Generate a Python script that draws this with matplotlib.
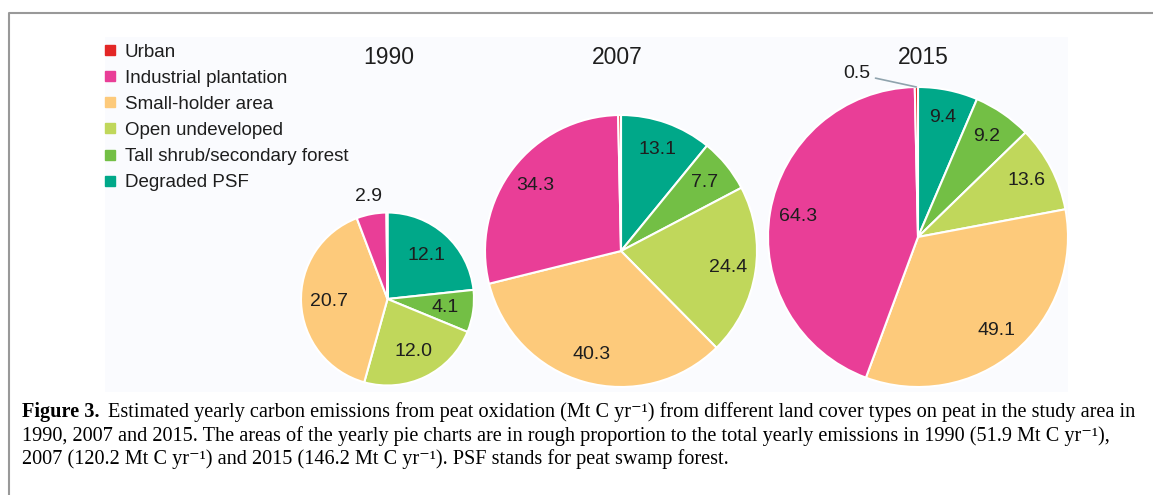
import matplotlib
matplotlib.use("Agg")
import matplotlib.pyplot as plt
import numpy as np
from matplotlib.lines import Line2D

plt.rcParams['font.family'] = ['Liberation Sans', 'DejaVu Sans']

#------------------------------------------------------------------------------
# Data (Mt C / yr), slice order clockwise from 12 o'clock
categories = ["Degraded PSF", "Tall shrub/secondary forest", "Open undeveloped",
              "Small-holder area", "Industrial plantation", "Urban"]
colors = ["#00a889", "#73bf45", "#c0d75b", "#fdca7b", "#e93e97", "#e32726"]

years = ["1990", "2007", "2015"]
totals = [51.9, 120.2, 146.2]
values_1990 = [12.1, 4.1, 12.0, 20.7, 2.9, 0.1]
values_2007 = [13.1, 7.7, 24.4, 40.3, 34.3, 0.4]
values_2015 = [9.4, 9.2, 13.6, 49.1, 64.3, 0.5]

# legend order (top to bottom)
legend_order = ["Urban", "Industrial plantation", "Small-holder area",
                "Open undeveloped", "Tall shrub/secondary forest", "Degraded PSF"]

#------------------------------------------------------------------------------
# Layout (pixel coordinates, y from top)
W, H = 1153, 495
centers = [(387.5, 299), (621, 251), (918, 237)]
radii = [86.5, 136, 150]
title_pos = [(389, 58), (617, 58), (923, 58)]
outside = [[4], [], [5]]          # slices labelled outside the pie
dark = "#1e1e1e"

fig = plt.figure(figsize=(W / 100, H / 100), dpi=100)
ax = fig.add_axes([0, 0, 1, 1])
ax.set_xlim(0, W)
ax.set_ylim(0, H)
ax.set_aspect('equal')
ax.axis('off')

# faint panel background and page frame
ax.add_patch(plt.Rectangle((105, H - 392), 963, 355, color="#fafbfe", zorder=0, lw=0))
ax.plot([8.5, 8.5, W], [0, H - 13, H - 13], color="#999999", lw=1.5, solid_capstyle='butt')

all_values = [values_1990, values_2007, values_2015]
for k, vals in enumerate(all_values):
    cx, cy = centers[k]
    cy = H - cy
    r = radii[k]
    wedges, _ = ax.pie(vals, colors=colors, center=(cx, cy), radius=r,
                       startangle=90, counterclock=False, frame=True,
                       wedgeprops=dict(edgecolor="white", linewidth=1.5))
    for i, w in enumerate(wedges):
        if vals[i] < 0.5:
            continue
        ang = np.deg2rad((w.theta1 + w.theta2) / 2)
        txt = f"{vals[i]:.1f}"
        if i in outside[k]:
            if k == 0:
                ax.text(cx + (r + 18) * np.cos(ang), cy + (r + 18) * np.sin(ang), txt,
                        ha='center', va='center', fontsize=14, color=dark)
            else:
                ax.annotate(txt, xy=(cx + r * np.cos(ang), cy + r * np.sin(ang)),
                            xytext=(cx - 48, cy + r + 13), ha='right', va='center',
                            fontsize=14, color=dark,
                            arrowprops=dict(arrowstyle='-', color="#8fa3ad", lw=1.2,
                                            shrinkA=2, shrinkB=0))
        else:
            ax.text(cx + (r - 28) * np.cos(ang), cy + (r - 28) * np.sin(ang), txt,
                    ha='center', va='center', fontsize=14, color=dark)
    tx, ty = title_pos[k]
    ax.text(tx, H - ty, years[k], ha='center', va='center', fontsize=16.5, color=dark)

ax.set_xlim(0, W)
ax.set_ylim(0, H)

# legend
handles = [Line2D([], [], marker='s', ls='', markersize=7.5,
                  color=colors[categories.index(c)]) for c in legend_order]
ax.legend(handles, legend_order, loc='upper left', bbox_to_anchor=(95 / W, 1 - 36 / H),
          frameon=False, fontsize=13.5, handlelength=0.8, handletextpad=0.4,
          labelspacing=0.48, borderaxespad=0, labelcolor=dark)

# caption
serif = ['Liberation Serif', 'DejaVu Serif']
cap_size = 14.6
unit = "Mt C yr\u207b\u00b9"
t1 = ax.text(22, H - 412, "Figure 3.", fontsize=cap_size, fontweight='bold',
             family=serif, va='center', ha='left')
ax.annotate(f"Estimated yearly carbon emissions from peat oxidation ({unit}) from different "
            "land cover types on peat in the study area in",
            xy=(1, 0.5), xycoords=t1, xytext=(6, 0), textcoords='offset points',
            va='center', ha='left', fontsize=cap_size, family=serif)
ax.text(22, H - 436, f"{years[0]}, {years[1]} and {years[2]}. The areas of the yearly pie charts "
        f"are in rough proportion to the total yearly emissions in {years[0]} ({totals[0]} {unit}),",
        fontsize=cap_size, family=serif, va='center', ha='left')
ax.text(22, H - 459, f"{years[1]} ({totals[1]} {unit}) and {years[2]} ({totals[2]} {unit}). "
        "PSF stands for peat swamp forest.",
        fontsize=cap_size, family=serif, va='center', ha='left')

fig.savefig("out.png", dpi=100)
